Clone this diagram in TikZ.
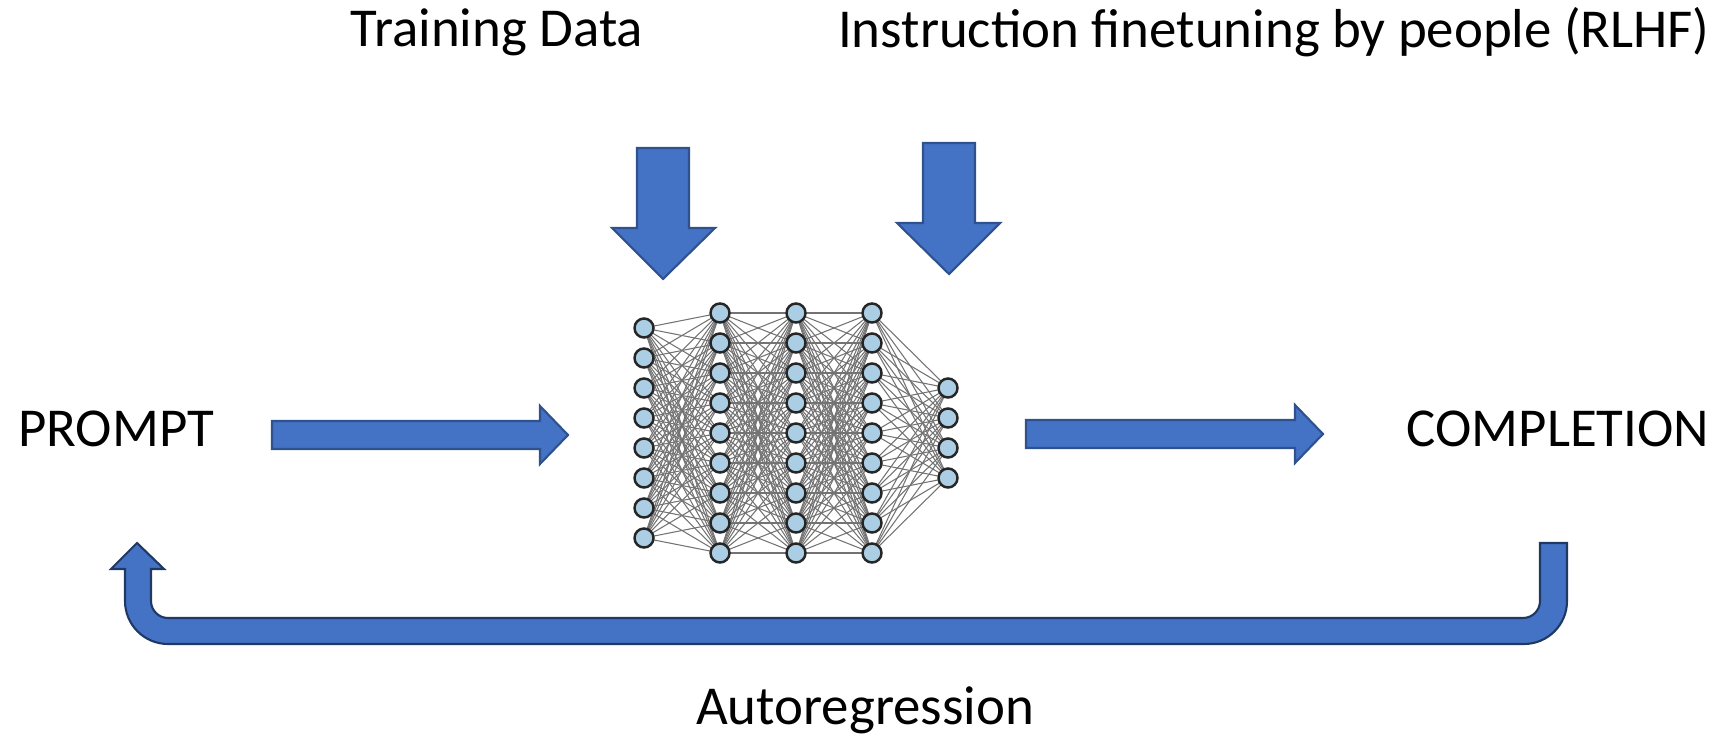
\documentclass[tikz,border=0pt]{standalone}
\usepackage{fontspec}
\setmainfont{Carlito}
\usetikzlibrary{backgrounds}

\definecolor{arrowblue}{HTML}{4472C4}
\definecolor{arrowedge}{HTML}{2F528F}
\definecolor{loopedge}{HTML}{1F3864}
\definecolor{neuronblue}{RGB}{171,206,228}

\begin{document}
\begin{tikzpicture}[x=0.01cm, y=-0.01cm,
    lbl/.style={font=\fontsize{15.6}{19}\selectfont, anchor=base, inner sep=0pt},
    neuron/.style={circle, draw=black!85, fill=neuronblue, line width=0.7pt,
        minimum size=0.19cm, inner sep=0pt},
    synapse/.style={draw=black!55, line width=0.3pt},
    blockarrow/.style={fill=arrowblue, draw=arrowedge, line width=0.6pt}]

    \useasboundingbox (0,0) rectangle (1719,740);

    % labels
    \node[lbl] (train) at (497,47) {Training Data};
    \node[lbl] (rlhf) at (1274,48) {Instruction finetuning by people (RLHF)};
    \node[lbl] (prompt) at (116,446) {PROMPT};
    \node[lbl] (completion) at (1558,446) {COMPLETION};
    \node[lbl] (autoreg) at (865,724) {Autoregression};

    % network: layer/x/number of neurons
    \foreach \l/\x/\n in {1/644/8, 2/720/9, 3/796/9, 4/872/9, 5/948/4}
	\foreach \i in {1,...,\n}
	    \node[neuron] (n-\l-\i) at (\x, {433+(\i-(\n+1)/2)*30}) {};

    \begin{scope}[on background layer]
	\foreach \l/\m/\a/\b in {1/2/8/9, 2/3/9/9, 3/4/9/9, 4/5/9/4}
	    \foreach \i in {1,...,\a}
		\foreach \j in {1,...,\b}
		    \draw[synapse] (n-\l-\i.center) -- (n-\m-\j.center);
    \end{scope}

    % prompt in, completion out
    \draw[blockarrow] (272,421) -- (540,421) -- (540,406) -- (568,435)
	-- (540,464) -- (540,449) -- (272,449) -- cycle;
    \draw[blockarrow] (1026,420) -- (1295,420) -- (1295,405) -- (1323,434)
	-- (1295,463) -- (1295,448) -- (1026,448) -- cycle;

    % training data and RLHF
    \draw[blockarrow] (637,148) -- (689,148) -- (689,228) -- (715,228)
	-- (663,279) -- (612,228) -- (637,228) -- cycle;
    \draw[blockarrow] (923,143) -- (975,143) -- (975,223) -- (1000,223)
	-- (949,274) -- (897,223) -- (923,223) -- cycle;

    % feedback loop back to the prompt
    \draw[blockarrow, draw=loopedge] (1567,543) -- (1567,601)
	arc[start angle=0, end angle=90, radius=43] -- (168,644)
	arc[start angle=90, end angle=180, radius=43] -- (125,569)
	-- (111,569) -- (137,543) -- (164,569) -- (151,569) -- (151,601)
	arc[start angle=180, end angle=90, radius=17] -- (1523,618)
	arc[start angle=90, end angle=0, radius=17] -- (1540,543) -- cycle;
\end{tikzpicture}
\end{document}
